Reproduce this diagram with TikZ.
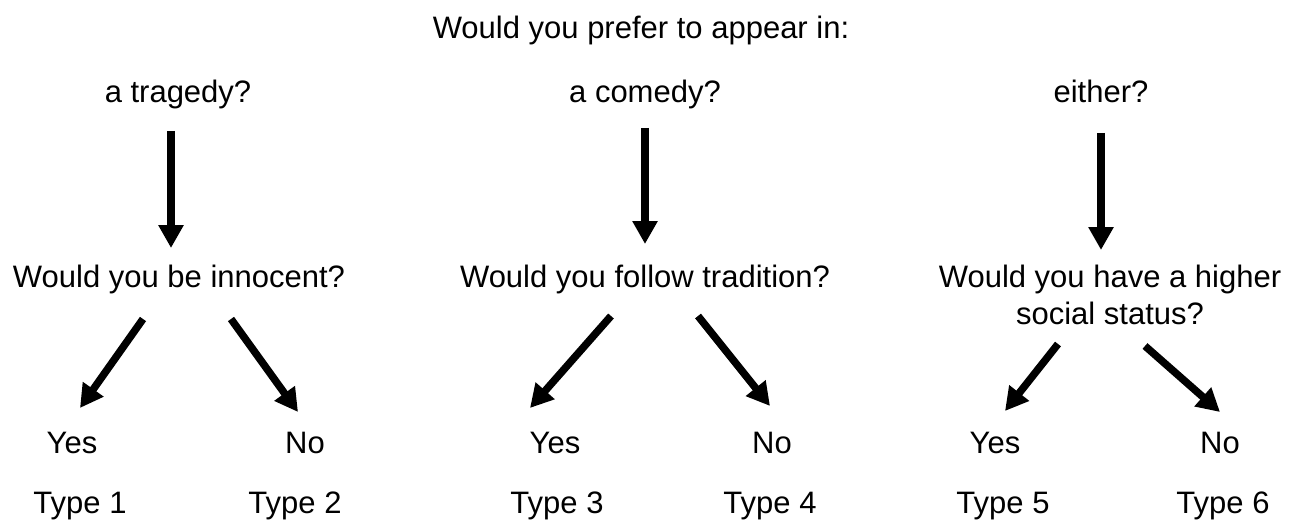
\documentclass[tikz,border=0pt]{standalone}
\usepackage{fontspec}
\setmainfont{Liberation Sans}
\usetikzlibrary{arrows.meta}

\begin{document}
\begin{tikzpicture}[x=1pt, y=-1pt,
    txt/.style={anchor=base, inner sep=0pt, align=center,
                font=\fontsize{31}{37}\selectfont},
    pick/.style={line width=7.5pt, -{Triangle[width=24pt,length=23pt]}}]
  \useasboundingbox (0,0) rectangle (1298,524);

  % question and the three kinds of play
  \node[txt] (title) at (641,39) {Would you prefer to appear in:};
  \node[txt] (tragedy) at (178,103) {a tragedy?};
  \node[txt] (comedy) at (645,103) {a comedy?};
  \node[txt] (either) at (1101,103) {either?};

  % second questions
  \node[txt] (innocent) at (179,287) {Would you be innocent?};
  \node[txt] (tradition) at (645,287) {Would you follow tradition?};
  \node[txt] (status) at (1110,324) {Would you have a higher\\social status?};

  % answers and types
  \node[txt] (yes1) at (72,453) {Yes};
  \node[txt] (no1) at (305,453) {No};
  \node[txt] (yes2) at (555,453) {Yes};
  \node[txt] (no2) at (772,453) {No};
  \node[txt] (yes3) at (995,453) {Yes};
  \node[txt] (no3) at (1220,453) {No};
  \node[txt] (type1) at (80,513) {Type 1};
  \node[txt] (type2) at (295,513) {Type 2};
  \node[txt] (type3) at (557,513) {Type 3};
  \node[txt] (type4) at (770,513) {Type 4};
  \node[txt] (type5) at (1003,513) {Type 5};
  \node[txt] (type6) at (1223,513) {Type 6};

  % arrow ends
  \coordinate (t1) at (171,131);  \coordinate (t2) at (171,248);
  \coordinate (c1) at (645,128);  \coordinate (c2) at (645,244);
  \coordinate (e1) at (1101,133); \coordinate (e2) at (1101,250);
  \coordinate (iy1) at (143,319); \coordinate (iy2) at (80,408);
  \coordinate (in1) at (231,319); \coordinate (in2) at (298,412);
  \coordinate (ty1) at (611,316); \coordinate (ty2) at (530,408);
  \coordinate (tn1) at (698,316); \coordinate (tn2) at (770,406);
  \coordinate (sy1) at (1058,344); \coordinate (sy2) at (1005,411);
  \coordinate (sn1) at (1145,346); \coordinate (sn2) at (1220,412);

  \draw[pick] (t1) -- (t2);
  \draw[pick] (c1) -- (c2);
  \draw[pick] (e1) -- (e2);
  \draw[pick] (iy1) -- (iy2);
  \draw[pick] (in1) -- (in2);
  \draw[pick] (ty1) -- (ty2);
  \draw[pick] (tn1) -- (tn2);
  \draw[pick] (sy1) -- (sy2);
  \draw[pick] (sn1) -- (sn2);
\end{tikzpicture}
\end{document}
